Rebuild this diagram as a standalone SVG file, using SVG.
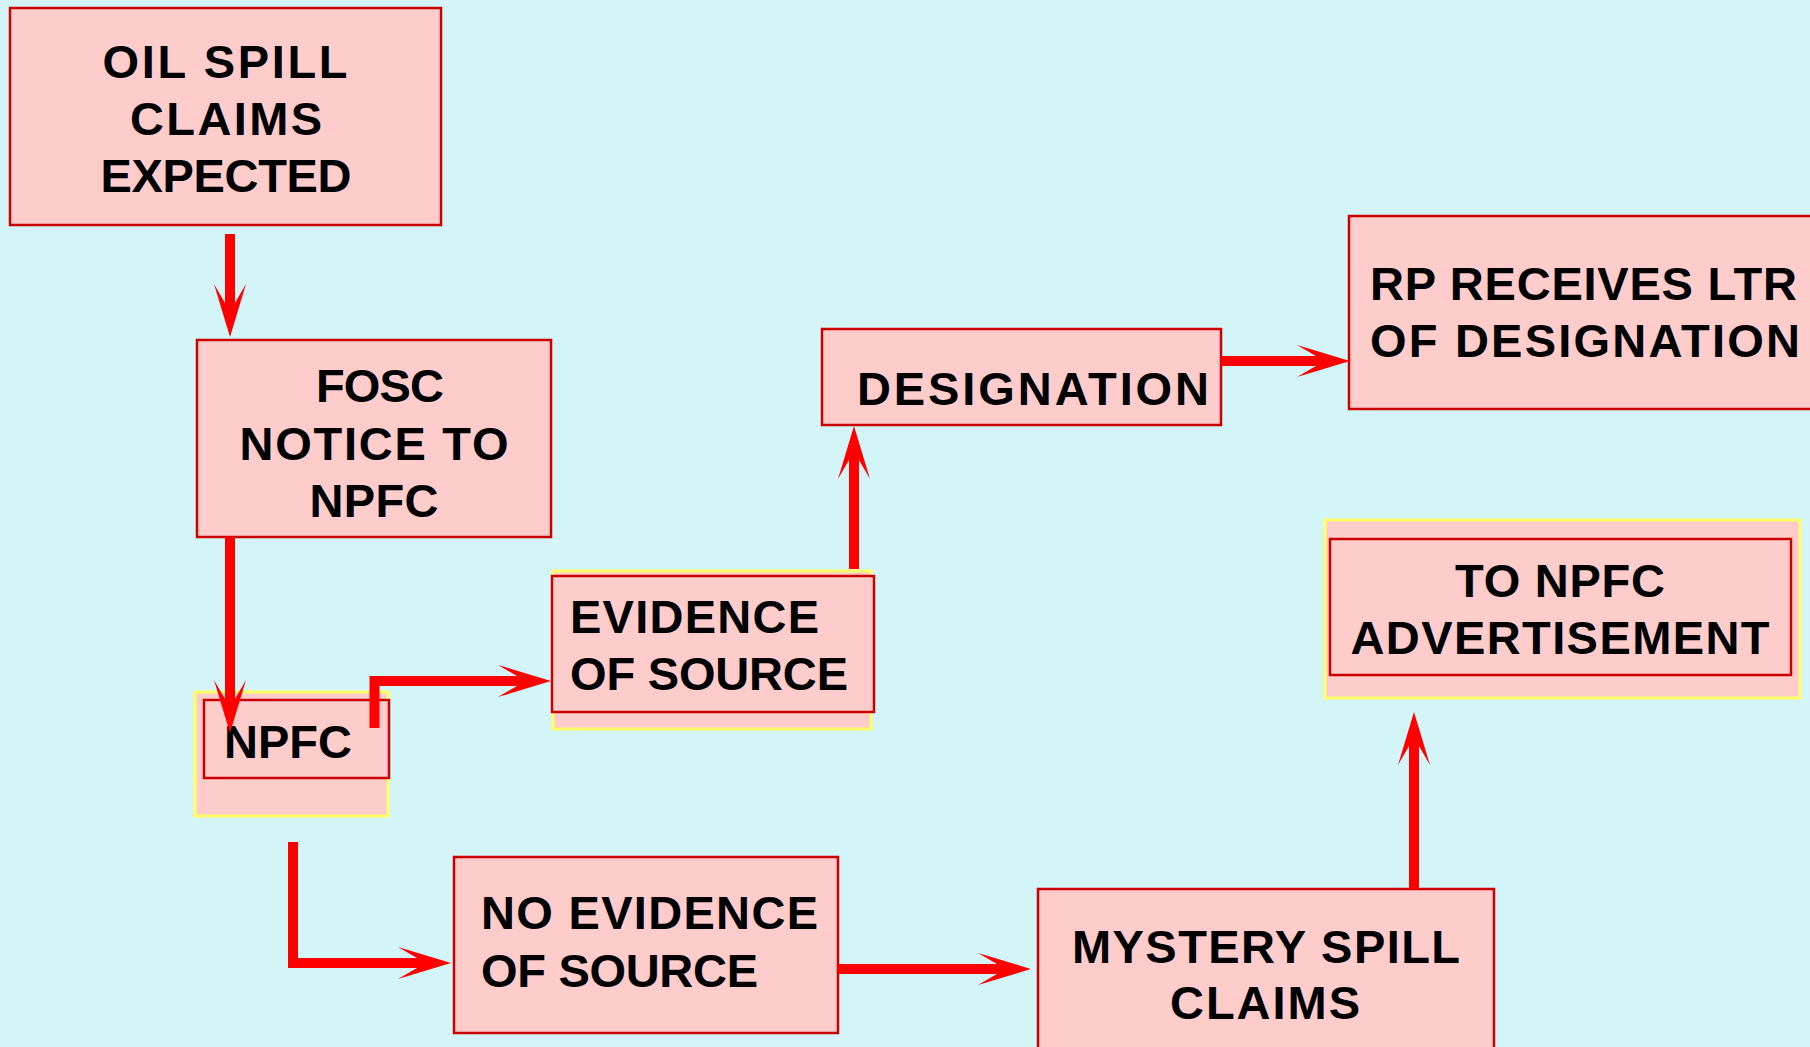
<svg xmlns="http://www.w3.org/2000/svg" width="1810" height="1047" viewBox="0 0 1810 1047">
<style>
.box{fill:#FFCCCC;stroke:#CC0000;stroke-width:2.5}
.ybox{fill:#FFCCCC;stroke:#FFFF66;stroke-width:3}
.t{font-family:"Liberation Sans",Arial,sans-serif;font-weight:bold;font-size:47px;fill:#000}
.m{text-anchor:middle}
.c{fill:none;stroke:#FF0000;stroke-width:10;stroke-linejoin:miter;marker-end:url(#ah)}
</style>
<defs>
<marker id="ah" markerUnits="userSpaceOnUse" viewBox="0 -17 53 34" refX="22" refY="0" markerWidth="53" markerHeight="34" orient="auto">
<path d="M53,0 L0,-16 Q12,-9 19,-5 L19,5 Q12,9 0,16 Z" fill="#FF0000"/>
</marker>
</defs>
<rect width="1810" height="1047" fill="#D3F5F8"/>

<g id="oil-spill">
<rect class="box" x="10" y="8" width="431" height="217"/>
<text class="t m" x="225" y="78" textLength="245" lengthAdjust="spacing">OIL SPILL</text>
<text class="t m" x="226" y="135" textLength="192" lengthAdjust="spacing">CLAIMS</text>
<text class="t m" x="226" y="192" textLength="251" lengthAdjust="spacing">EXPECTED</text>
</g>

<g id="fosc">
<rect class="box" x="197" y="340" width="354" height="197"/>
<text class="t m" x="380" y="402" textLength="128" lengthAdjust="spacing">FOSC</text>
<text class="t m" x="374" y="460" textLength="269" lengthAdjust="spacing">NOTICE TO</text>
<text class="t m" x="374" y="517" textLength="129" lengthAdjust="spacing">NPFC</text>
</g>

<g id="npfc">
<rect class="ybox" x="195" y="692" width="193" height="124"/>
<rect class="box" x="204" y="700" width="185" height="78"/>
<text class="t" x="224" y="758" textLength="128" lengthAdjust="spacing">NPFC</text>
</g>

<g id="evidence">
<rect class="ybox" x="553" y="571" width="318" height="158"/>
<rect class="box" x="552" y="576" width="322" height="136"/>
<text class="t" x="570" y="633" textLength="249" lengthAdjust="spacing">EVIDENCE</text>
<text class="t" x="570" y="690" textLength="278" lengthAdjust="spacing">OF SOURCE</text>
</g>

<g id="designation">
<rect class="box" x="822" y="329" width="399" height="96"/>
<text class="t" x="857" y="405" textLength="352" lengthAdjust="spacing">DESIGNATION</text>
</g>

<g id="rp-receives">
<rect class="box" x="1349" y="216" width="470" height="193"/>
<text class="t" x="1370" y="300" textLength="427" lengthAdjust="spacing">RP RECEIVES LTR</text>
<text class="t" x="1370" y="357" textLength="430" lengthAdjust="spacing">OF DESIGNATION</text>
</g>

<g id="advertisement">
<rect class="ybox" x="1325" y="520" width="475" height="178"/>
<rect class="box" x="1330" y="539" width="461" height="136"/>
<text class="t m" x="1560" y="597" textLength="210" lengthAdjust="spacing">TO NPFC</text>
<text class="t m" x="1560" y="654" textLength="419" lengthAdjust="spacing">ADVERTISEMENT</text>
</g>

<g id="no-evidence">
<rect class="box" x="454" y="857" width="384" height="176"/>
<text class="t" x="481" y="929" textLength="337" lengthAdjust="spacing">NO EVIDENCE</text>
<text class="t" x="481" y="987" textLength="277" lengthAdjust="spacing">OF SOURCE</text>
</g>

<g id="mystery">
<rect class="box" x="1038" y="889" width="456" height="170"/>
<text class="t m" x="1266" y="963" textLength="388" lengthAdjust="spacing">MYSTERY SPILL</text>
<text class="t m" x="1265" y="1019" textLength="190" lengthAdjust="spacing">CLAIMS</text>
</g>

<g id="connectors">
<path class="c" d="M230,234 V306"/>
<path class="c" d="M230,537 V702"/>
<path class="c" d="M374.5,728 V681 H520" stroke-width="9"/>
<path class="c" d="M854,569 V457"/>
<path class="c" d="M1221,361 H1319"/>
<path class="c" d="M293,842 V963 H420" stroke-width="11"/>
<path class="c" d="M838,969 H1000"/>
<path class="c" d="M1414,889 V743"/>
</g>
</svg>
